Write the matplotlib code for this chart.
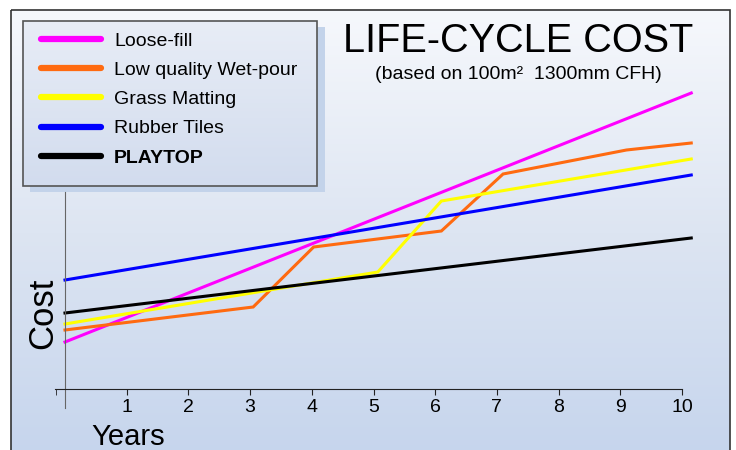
import numpy as np
import matplotlib
matplotlib.use("Agg")
import matplotlib.pyplot as plt
from matplotlib.patches import Rectangle
from matplotlib.colors import LinearSegmentedColormap

plt.rcParams['font.family'] = ['Liberation Sans', 'DejaVu Sans']

# Data (cost in arbitrary units)
series = ["Loose-fill", "Low quality Wet-pour", "Grass Matting", "Rubber Tiles", "PLAYTOP"]
colors = ["#ff00ff", "#ff6a10", "#ffff00", "#0000ff", "#000000"]

loose_x = [0, 10.15]
loose_y = [47, 296]
wet_x = [0, 3.05, 4.03, 6.1, 7.1, 9.1, 10.15]
wet_y = [59, 82, 142, 158, 215, 239, 246]
grass_x = [0, 5.07, 6.1, 10.15]
grass_y = [65, 117, 188, 230]
rubber_x = [0, 10.15]
rubber_y = [109, 214]
playtop_x = [0, 10.15]
playtop_y = [76, 151]

years = list(range(1, 11))

W, H = 736, 450
fig = plt.figure(figsize=(W / 100, H / 100), dpi=100)
fig.patch.set_facecolor("white")

# background layer in pixel coordinates
bg = fig.add_axes([0, 0, 1, 1], zorder=0)
bg.set_xlim(0, W)
bg.set_ylim(H, 0)
bg.axis("off")

panel_cmap = LinearSegmentedColormap.from_list("panel", ["#f6f8fc", "#dde5f2", "#c6d5ed"])
grad = np.linspace(0, 1, 256).reshape(-1, 1)
bg.imshow(grad, cmap=panel_cmap, aspect="auto", extent=(11, 730, 455, 10), zorder=0)
bg.add_patch(Rectangle((11, 10), 719, 460, fill=False, edgecolor="#333333", lw=1.2, zorder=1))

# legend shadow and box
bg.add_patch(Rectangle((30, 27), 295, 165, facecolor="#c3d3ea", edgecolor="none", zorder=2))
leg_cmap = LinearSegmentedColormap.from_list("leg", ["#e8edf6", "#d2dcee"])
bg.imshow(grad, cmap=leg_cmap, aspect="auto", extent=(23, 317, 186, 21), zorder=3)
bg.add_patch(Rectangle((23, 21), 294, 165, fill=False, edgecolor="#555555", lw=1.2, zorder=4))

# main axes mapped so that 1 year = 61.7 px, origin at (65, 389) px
ax = fig.add_axes([0, 0, 1, 1], zorder=1)
ax.patch.set_alpha(0)
px_per_year = 61.7
ax.set_xlim(-65 / px_per_year, (W - 65) / px_per_year)
ax.set_ylim(389 - H, 389)

xs = [loose_x, wet_x, grass_x, rubber_x, playtop_x]
ys = [loose_y, wet_y, grass_y, rubber_y, playtop_y]
for x, y, c in zip(xs, ys, colors):
    ax.plot(x, y, color=c, lw=2.2, solid_joinstyle="miter")

for s in ["top", "right"]:
    ax.spines[s].set_visible(False)
ax.spines["bottom"].set_position(("data", 0))
ax.spines["bottom"].set_bounds(-0.16, 10)
ax.spines["bottom"].set_color("#222222")
ax.spines["left"].set_position(("data", 0))
ax.spines["left"].set_bounds(-19, 197)
ax.spines["left"].set_color("#666666")
ax.set_yticks([])
ax.set_xticks(years)
ax.set_xticks([-0.15], minor=True)
ax.tick_params(axis="x", which="both", direction="out", length=4, color="#222222",
               labelsize=14, pad=3)

# legend
handles = [plt.Line2D([], [], color=c, lw=4.5, solid_capstyle="round") for c in colors]
leg = ax.legend(handles, series, loc="upper left", bbox_to_anchor=(41 / W, 1 - 32 / H),
                bbox_transform=fig.transFigure, frameon=False, fontsize=14,
                handlelength=3.1, handletextpad=0.65, labelspacing=0.6, borderpad=0,
                borderaxespad=0)
leg.get_texts()[4].set_fontweight("bold")

# titles and axis labels
fig.text(518 / W, 1 - 52 / H, "LIFE-CYCLE COST", fontsize=28.5, ha="center", va="baseline")
fig.text(518 / W, 1 - 79 / H, "(based on 100m\u00b2  1300mm CFH)", fontsize=14,
         ha="center", va="baseline")
fig.text(128 / W, 1 - 445 / H, "Years", fontsize=21, ha="center", va="baseline")
fig.text(43 / W, 1 - 313 / H, "Cost", fontsize=25, rotation=90, ha="center", va="center")

fig.savefig("out.png", dpi=100)
